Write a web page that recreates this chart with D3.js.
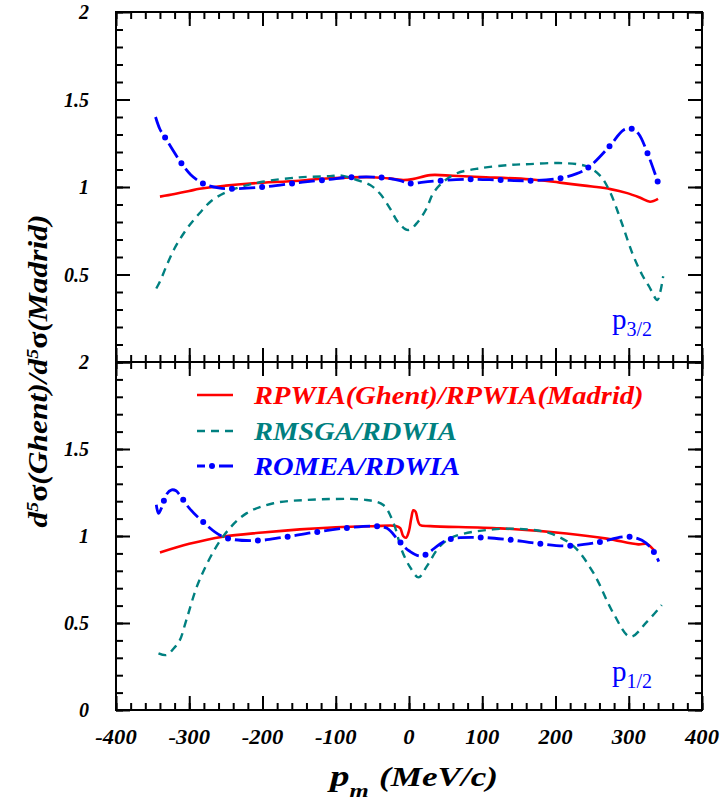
<!DOCTYPE html>
<html>
<head>
<meta charset="utf-8">
<script src="https://cdn.jsdelivr.net/npm/d3@7"></script>
<style>
  html, body { margin: 0; padding: 0; background: #fff; }
  svg { display: block; }
  .lab { font-family: "Liberation Serif", "Times New Roman", serif; font-weight: bold; font-style: italic; }
</style>
</head>
<body>
<svg id="chart" width="723" height="803"></svg>
<script>
// ---- data: cross-section ratios vs missing momentum p_m (MeV/c) ----
// p3/2 panel
const rpwiaP32 = [[-340,0.945],[-320,0.96],[-300,0.977],[-286,0.99],[-250,1.008],[-217,1.02],[-150,1.036],[-108,1.05],[-50,1.056],[-20,1.046],[-8,1.04],[5,1.045],[29,1.068],[60,1.064],[97,1.057],[165,1.044],[206,1.025],[250,1.003],[275,0.988],[298,0.965],[315,0.94],[329,0.916],[340,0.932]];
const rmsgaP32 = [[-345,0.42],[-340,0.46],[-330,0.56],[-320,0.65],[-310,0.72],[-300,0.78],[-286,0.85],[-270,0.92],[-250,0.97],[-230,1.0],[-200,1.03],[-150,1.055],[-108,1.062],[-94,1.066],[-71,1.04],[-53,1.011],[-40,0.964],[-26,0.878],[-15,0.8],[-1,0.754],[12,0.8],[24,0.878],[33,0.964],[47,1.03],[65,1.078],[97,1.107],[138,1.126],[165,1.131],[202,1.137],[230,1.13],[245,1.114],[262,1.06],[275,0.966],[290,0.8],[305,0.62],[318,0.5],[328,0.43],[339,0.354],[343,0.4],[347,0.49]];
const romeaP32 = [[-346,1.40],[-340,1.33],[-335,1.297],[-313,1.15],[-298,1.07],[-285,1.029],[-276,1.011],[-260,0.995],[-245,0.99],[-200,1.0],[-150,1.025],[-108,1.044],[-81,1.055],[-40,1.055],[-12,1.036],[0,1.02],[20,1.028],[42,1.036],[83,1.044],[124,1.04],[165,1.036],[206,1.05],[228,1.075],[245,1.112],[274,1.234],[293,1.326],[304,1.333],[313,1.306],[326,1.189],[340,1.025]];
// p1/2 panel
const rpwiaP12 = [[-340,0.905],[-300,0.955],[-254,0.996],[-200,1.02],[-149,1.038],[-100,1.05],[-50,1.056],[-18,1.058],[-12,1.045],[-8,1.0],[-4,0.99],[0,1.03],[3,1.1],[6,1.148],[9,1.14],[12,1.09],[15,1.063],[29,1.057],[124,1.044],[215,1.014],[270,0.985],[313,0.952],[325,0.954],[334,0.92]];
const rmsgaP12 = [[-342,0.326],[-331,0.316],[-322,0.35],[-313,0.40],[-304,0.517],[-286,0.747],[-254,0.996],[-222,1.13],[-185,1.188],[-140,1.207],[-58,1.207],[-35,1.178],[-21,1.073],[-10,0.92],[1,0.824],[13,0.762],[24,0.824],[42,0.94],[61,0.996],[115,1.038],[161,1.038],[193,1.015],[225,0.94],[252,0.786],[279,0.556],[302,0.421],[325,0.508],[345,0.603]];
const romeaP12 = [[-345,1.18],[-342,1.13],[-338,1.16],[-331,1.24],[-324,1.265],[-318,1.26],[-313,1.236],[-300,1.16],[-286,1.10],[-254,0.996],[-213,0.973],[-172,0.992],[-131,1.02],[-90,1.044],[-49,1.057],[-30,1.044],[-14,0.973],[0,0.915],[17,0.885],[52,0.977],[92,0.992],[134,0.98],[174,0.958],[215,0.943],[256,0.962],[297,0.996],[318,0.975],[332,0.922],[341,0.853]];

const xTicksMajor = [-400,-300,-200,-100,0,100,200,300,400];
const xTickLabels = ["-400","-300","-200","-100","0","100","200","300","400"];
const yTicksTop = [2,1.5,1,0.5];
const yTicksBottom = [2,1.5,1,0.5,0];
const legendLabels = ["RPWIA(Ghent)/RPWIA(Madrid)", "RMSGA/RDWIA", "ROMEA/RDWIA"];
const seriesColors = ["#ff0000", "#008080", "#0000ff"];

// ---- layout ----
const X0 = 116, X1 = 702, YT = 12, YM = 362, YB = 710;
const svg = d3.select("#chart");
const x = d3.scaleLinear().domain([-400, 400]).range([X0, X1]);
const yTop = d3.scaleLinear().domain([0, 2]).range([YM, YT]);
const yBot = d3.scaleLinear().domain([0, 2]).range([YB, YM]);
const minorX = d3.range(-400, 401, 20);
const minorY = d3.range(0, 2.0001, 0.1).map(v => +v.toFixed(2));

// stretch a text element horizontally by a factor (wider Times-like face)
function widen(sel, factor) {
  sel.each(function () {
    const w = this.getComputedTextLength();
    d3.select(this).attr("textLength", w * factor).attr("lengthAdjust", "spacingAndGlyphs");
  });
}

function styleAxis(g) {
  g.select(".domain").remove();
  g.selectAll(".tick line").attr("stroke", "#000").attr("stroke-width", 2);
  g.selectAll(".tick text").remove();
}

function panelAxes(y) {
  const [yb, yt] = y.range();
  const specs = [
    [d3.axisBottom(x), `translate(0,${yt})`, minorX, xTicksMajor],
    [d3.axisTop(x), `translate(0,${yb})`, minorX, xTicksMajor],
    [d3.axisRight(y), `translate(${X0},0)`, minorY, [0, 0.5, 1, 1.5, 2]],
    [d3.axisLeft(y), `translate(${X1},0)`, minorY, [0, 0.5, 1, 1.5, 2]]
  ];
  specs.forEach(([ax, tr, minor, major]) => {
    svg.append("g").attr("transform", tr)
      .call(ax.tickValues(minor).tickSize(7).tickFormat(""))
      .call(styleAxis);
    svg.append("g").attr("transform", tr)
      .call(ax.tickValues(major).tickSize(14).tickFormat(""))
      .call(styleAxis);
  });
  svg.append("rect").attr("x", X0).attr("y", yt).attr("width", X1 - X0).attr("height", yb - yt)
    .attr("fill", "none").attr("stroke", "#000").attr("stroke-width", 2);
}

panelAxes(yTop);
panelAxes(yBot);

// ---- curves ----
function drawSeries(data, y, kind) {
  const line = d3.line().x(d => x(d[0])).y(d => y(d[1])).curve(d3.curveCatmullRom.alpha(0.5));
  drawStyled(svg.append("g"), line(data), kind, 0);
}

function drawStyled(g, dStr, kind, offset) {
  const col = seriesColors[kind];
  if (kind === 0) {
    g.append("path").attr("d", dStr).attr("fill", "none").attr("stroke", col).attr("stroke-width", 2.6);
  } else if (kind === 1) {
    g.append("path").attr("d", dStr).attr("fill", "none").attr("stroke", col).attr("stroke-width", 2.4)
      .attr("stroke-dasharray", "8,6");
  } else {
    // long dash followed by a round dot
    g.append("path").attr("d", dStr).attr("fill", "none").attr("stroke", col).attr("stroke-width", 2.8)
      .attr("stroke-dasharray", "16,14").attr("stroke-dashoffset", offset);
    g.append("path").attr("d", dStr).attr("fill", "none").attr("stroke", col).attr("stroke-width", 6)
      .attr("stroke-linecap", "round").attr("stroke-dasharray", "0,30").attr("stroke-dashoffset", offset - 23);
  }
}

drawSeries(rpwiaP32, yTop, 0);
drawSeries(rmsgaP32, yTop, 1);
drawSeries(romeaP32, yTop, 2);
drawSeries(rpwiaP12, yBot, 0);
drawSeries(rmsgaP12, yBot, 1);
drawSeries(romeaP12, yBot, 2);

// ---- tick labels ----
svg.append("g").selectAll("text").data(yTicksTop).join("text")
  .attr("class", "lab").attr("x", 89).attr("y", d => yTop(d)).attr("dy", "0.35em")
  .attr("text-anchor", "end").attr("font-size", 20).text(d => String(d));
svg.append("g").selectAll("text").data(yTicksBottom).join("text")
  .attr("class", "lab").attr("x", 89).attr("y", d => yBot(d)).attr("dy", "0.35em")
  .attr("text-anchor", "end").attr("font-size", 20).text(d => String(d));
svg.append("g").selectAll("text").data(xTicksMajor).join("text")
  .attr("class", "lab").attr("x", d => x(d)).attr("y", 744)
  .attr("text-anchor", "middle").attr("font-size", 20).text((d, i) => xTickLabels[i])
  .call(widen, 1.13);

// ---- axis titles ----
const yTitle = svg.append("text").attr("class", "lab").attr("font-size", 27)
  .attr("text-anchor", "middle").attr("transform", `translate(47,371) rotate(-90)`);
yTitle.append("tspan").text("d");
yTitle.append("tspan").attr("font-size", 17).attr("baseline-shift", "super").text("5");
yTitle.append("tspan").attr("font-style", "normal").text("σ");
yTitle.append("tspan").text("(Ghent)/d");
yTitle.append("tspan").attr("font-size", 17).attr("baseline-shift", "super").text("5");
yTitle.append("tspan").attr("font-style", "normal").text("σ");
yTitle.append("tspan").text("(Madrid)");
yTitle.attr("textLength", 313).attr("lengthAdjust", "spacingAndGlyphs");

const xTitle = svg.append("text").attr("class", "lab").attr("font-size", 27)
  .attr("text-anchor", "middle").attr("x", 414).attr("y", 786);
xTitle.append("tspan").attr("font-size", 30).text("p");
xTitle.append("tspan").attr("font-size", 19).attr("baseline-shift", "sub").text("m");
xTitle.append("tspan").attr("dx", 8).text("(MeV/c)");
xTitle.attr("textLength", 168).attr("lengthAdjust", "spacingAndGlyphs");

// ---- orbital labels ----
function orbital(label, yBase) {
  const t = svg.append("text").attr("x", 612).attr("y", yBase)
    .attr("font-family", "Liberation Serif, Times New Roman, serif").attr("font-size", 29).attr("fill", "#0000ff");
  t.append("tspan").text("p");
  t.append("tspan").attr("font-size", 20).attr("dy", 7).text(label);
}
orbital("3/2", 329);
orbital("1/2", 681);

// ---- legend ----
const legendRows = [395, 431, 466];
legendLabels.forEach((lab, i) => {
  drawStyled(svg.append("g"), `M197,${legendRows[i]}L233,${legendRows[i]}`, i, 8);
  svg.append("text").attr("class", "lab").attr("x", 254).attr("y", legendRows[i] + 9)
    .attr("font-size", 25).attr("fill", seriesColors[i]).text(lab)
    .call(widen, 1.14);
});
</script>
</body>
</html>
